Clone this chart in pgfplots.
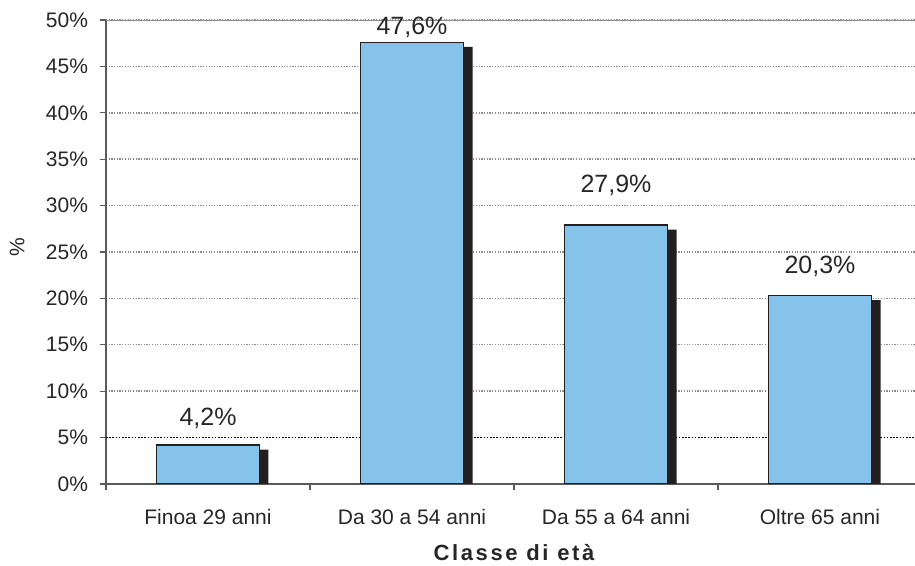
\documentclass[border=0pt]{standalone}
\usepackage{fontspec}
\setmainfont{Liberation Sans}
\usepackage{pgfplots}
\pgfplotsset{compat=1.18}
\usepackage{pgfplotstable}

\definecolor{barblue}{RGB}{133,195,235}
\definecolor{barshadow}{RGB}{35,31,32}
\definecolor{gridgray}{RGB}{140,140,140}
\definecolor{axisgray}{RGB}{90,90,90}

% age classes: position, share (%), label height, label text
\pgfplotstableread{
x  y     ly    lab
0  4.2   7.1   4,2
1  47.6  49.2  47,6
2  27.9  32.2  27,9
3  20.3  23.4  20,3
}\agedata

\begin{document}
\begin{tikzpicture}
\begin{axis}[
  name=ax,
  scale only axis,
  width=408pt, height=232pt,
  xmin=-0.5, xmax=3.5, ymin=0, ymax=50,
  axis x line*=bottom, axis y line*=left,
  x axis line style={axisgray, line width=0.7pt},
  y axis line style={axisgray, line width=0.7pt},
  tick align=outside,
  major tick length=3pt,
  tick style={axisgray, line width=0.6pt},
  xtick={-0.5,0.5,1.5,2.5,3.5},
  x tick label as interval,
  xticklabels={Finoa 29 anni, Da 30 a 54 anni, Da 55 a 64 anni, Oltre 65 anni},
  x tick label style={font=\fontsize{10.5}{12}\selectfont, text=black!85, yshift=-6pt},
  ytick={0,10,15,20,25,30,35,40,45,50},
  extra y ticks={5},
  extra y tick style={grid style={black, dash pattern=on 0.8pt off 0.8pt, line width=0.45pt}},
  yticklabel={\pgfmathprintnumber[assume math mode=true]{\tick}\%},
  y tick label style={font=\fontsize{10.5}{12}\selectfont, text=black!85, xshift=-2.5pt},
  ymajorgrids,
  grid style={gridgray, dash pattern=on 0.6pt off 0.75pt, line width=0.7pt},
  xlabel={\bfseries\addfontfeature{LetterSpace=12}Classe di età},
  xlabel style={font=\fontsize{11}{13}\selectfont, text=black!85,
    at={(axis description cs:0.5,0)}, anchor=center, yshift=-34.5pt},
  ylabel={\%},
  ylabel style={font=\fontsize{10.5}{12}\selectfont, text=black!85,
    at={(axis description cs:-0.109,0.51)}, anchor=center},
  clip=true,
]
% drop shadow behind each bar
\addplot[ybar, bar width=51.5pt, bar shift=4.5pt, fill=barshadow, draw=none, yshift=-2.25pt]
  table[x=x, y=y] \agedata;
% bars
\addplot[ybar, bar width=51.5pt, bar shift=0pt, fill=barblue, draw=barshadow, line width=0.75pt]
  table[x=x, y=y] \agedata;
% value labels
\addplot[only marks, mark=none, point meta=explicit symbolic,
  nodes near coords={\pgfplotspointmeta\%},
  every node near coord/.append style={anchor=center, text=black!85,
    font=\fontsize{12.5}{14}\selectfont}]
  table[x=x, y=ly, meta=lab] \agedata;
% upper frame line
\draw[gridgray, line width=0.8pt] (rel axis cs:0,1) -- (rel axis cs:1,1);
\end{axis}
\pgfresetboundingbox
\path ([xshift=-53pt, yshift=-41pt]ax.south west) rectangle ([xshift=-3.5pt, yshift=10pt]ax.north east);
\end{tikzpicture}
\end{document}
